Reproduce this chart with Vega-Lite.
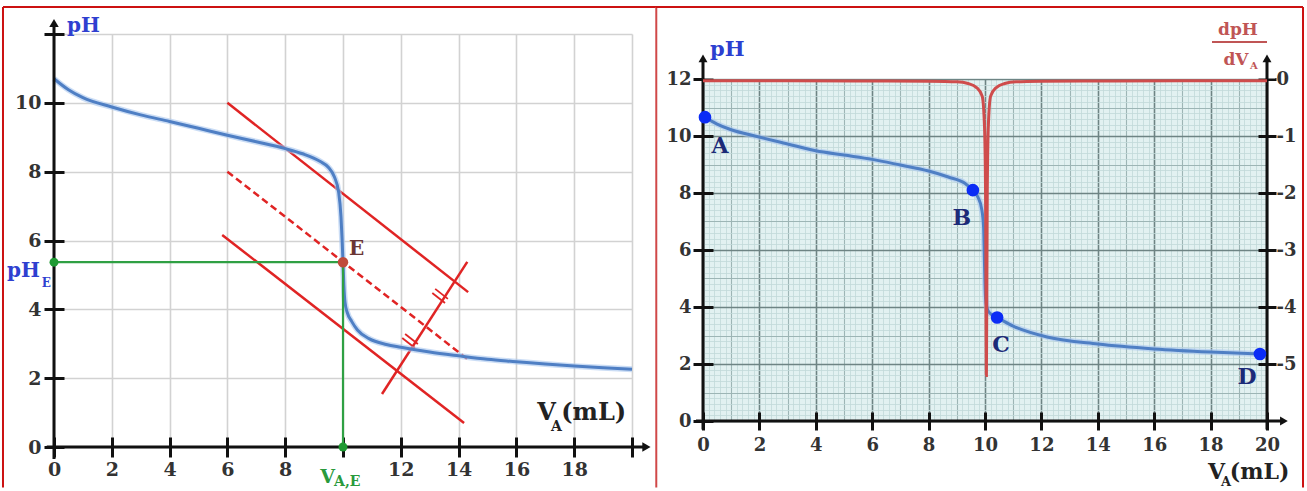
{
"$schema": "https://vega.github.io/schema/vega-lite/v6.json",
"padding": {"left": 1, "top": 6, "right": 0, "bottom": 0},
"spacing": -4,
"background": "white",
"config": {
  "view": {"stroke": null},
  "axis": {"domain": false, "labelFont": "DejaVu Serif", "labelFontWeight": "bold", "labelColor": "#333333", "tickColor": "#111111", "tickWidth": 3, "labelOverlap": false, "labelFlush": false, "labelBound": false}
},
"hconcat": [
{
  "width": 578, "height": 413,
  "encoding": {
    "x": {"field": "x", "type": "quantitative", "scale": {"domain": [0, 20], "nice": false, "zero": false},
          "axis": {"values": [0, 2, 4, 6, 8, 10, 12, 14, 16, 18, 20], "grid": true, "gridColor": "#d2d2d2", "gridWidth": 1.6, "tickSize": 20, "offset": -10, "labelPadding": 3, "labelFontSize": 19, "labelExpr": "datum.value == 10 || datum.value == 20 ? '' : toString(datum.value)", "title": null}},
    "y": {"field": "y", "type": "quantitative", "scale": {"domain": [0, 12], "nice": false, "zero": false},
          "axis": {"values": [0, 2, 4, 6, 8, 10, 12], "grid": true, "gridColor": "#d2d2d2", "gridWidth": 1.6, "tickSize": 20, "offset": -10, "labelPadding": 3, "labelFontSize": 19, "labelExpr": "datum.value == 12 ? '' : toString(datum.value)", "title": null}}
  },
  "layer": [
    {"data": {"values": [{"x": 6, "y": 10, "x2": 14.33, "y2": 4.5}, {"x": 5.82, "y": 6.16, "x2": 14.19, "y2": 0.7}, {"x": 11.35, "y": 1.54, "x2": 14.3, "y2": 5.38}]},
     "mark": {"type": "rule", "color": "#e02424", "strokeWidth": 2.5},
     "encoding": {"x2": {"field": "x2"}, "y2": {"field": "y2"}}},
    {"data": {"values": [{"x": 13.09, "y": 4.475, "x2": 13.53, "y2": 4.185}, {"x": 13.19, "y": 4.595, "x2": 13.63, "y2": 4.305}, {"x": 12.05, "y": 3.165, "x2": 12.49, "y2": 2.875}, {"x": 12.15, "y": 3.285, "x2": 12.59, "y2": 2.995}]},
     "mark": {"type": "rule", "color": "#e02424", "strokeWidth": 1.8},
     "encoding": {"x2": {"field": "x2"}, "y2": {"field": "y2"}}},
    {"data": {"values": [{"x": 6, "y": 8, "x2": 14.3, "y2": 2.56}]},
     "mark": {"type": "rule", "color": "#e02424", "strokeWidth": 2.5, "strokeDash": [7, 4]},
     "encoding": {"x2": {"field": "x2"}, "y2": {"field": "y2"}}},
    {"data": {"values": [
      {"x": 0, "y": 10.7}, {"x": 0.5, "y": 10.38}, {"x": 1, "y": 10.15}, {"x": 2, "y": 9.88}, {"x": 3, "y": 9.65}, {"x": 4, "y": 9.46}, {"x": 5, "y": 9.26}, {"x": 6, "y": 9.06}, {"x": 7, "y": 8.87}, {"x": 8, "y": 8.67}, {"x": 8.6, "y": 8.52}, {"x": 9.2, "y": 8.3}, {"x": 9.5, "y": 8.12}, {"x": 9.7, "y": 7.85}, {"x": 9.85, "y": 7.4}, {"x": 9.93, "y": 6.7}, {"x": 9.97, "y": 6.0}, {"x": 10, "y": 5.37}, {"x": 10.03, "y": 4.7}, {"x": 10.07, "y": 4.2}, {"x": 10.15, "y": 3.9}, {"x": 10.3, "y": 3.65}, {"x": 10.5, "y": 3.4}, {"x": 10.9, "y": 3.15}, {"x": 11.5, "y": 2.98}, {"x": 12, "y": 2.9}, {"x": 13, "y": 2.76}, {"x": 14, "y": 2.65}, {"x": 15, "y": 2.55}, {"x": 16, "y": 2.48}, {"x": 17, "y": 2.41}, {"x": 18, "y": 2.35}, {"x": 19, "y": 2.3}, {"x": 20, "y": 2.26}]},
     "layer": [
       {"mark": {"type": "line", "color": "#a9c6ee", "strokeWidth": 6, "opacity": 0.6, "interpolate": "monotone"}},
       {"mark": {"type": "line", "color": "#4f7fc4", "strokeWidth": 3, "interpolate": "monotone"}}
     ]},
    {"data": {"values": [{"x": 0, "y": 5.37, "x2": 10, "y2": 5.37}, {"x": 10, "y": 5.37, "x2": 10, "y2": 0}]},
     "mark": {"type": "rule", "color": "#2fa043", "strokeWidth": 2.2},
     "encoding": {"x2": {"field": "x2"}, "y2": {"field": "y2"}}},
    {"data": {"values": [{"x": -0.25, "y": 0, "x2": 20.5, "y2": 0}, {"x": 0, "y": -0.35, "x2": 0, "y2": 12.3}]},
     "mark": {"type": "rule", "color": "#111111", "strokeWidth": 3},
     "encoding": {"x2": {"field": "x2"}, "y2": {"field": "y2"}}},
    {"data": {"values": [{"x": 20.5, "y": 0}]},
     "mark": {"type": "point", "shape": "triangle-right", "filled": true, "color": "#111111", "size": 90, "opacity": 1}},
    {"data": {"values": [{"x": 0, "y": 12.32}]},
     "mark": {"type": "point", "shape": "triangle-up", "filled": true, "color": "#111111", "size": 90, "opacity": 1}},
    {"data": {"values": [{"x": 0, "y": 5.37}, {"x": 10, "y": 0}]},
     "mark": {"type": "point", "filled": true, "color": "#1f9a33", "size": 80, "opacity": 1}},
    {"data": {"values": [{"x": 10, "y": 5.37}]},
     "mark": {"type": "point", "filled": true, "color": "#c04a3a", "size": 110, "opacity": 1}},
    {"data": {"values": [{"x": 0.45, "y": 12.06, "t": "pH"}, {"x": -1.627, "y": 4.94, "t": "pH"}]},
     "mark": {"type": "text", "align": "left", "baseline": "alphabetic", "font": "DejaVu Serif", "fontWeight": "bold", "fontSize": 20, "color": "#2f3fd0"},
     "encoding": {"text": {"field": "t"}}},
    {"data": {"values": [{"x": -0.42, "y": 4.65, "t": "E"}]},
     "mark": {"type": "text", "align": "left", "baseline": "alphabetic", "font": "DejaVu Serif", "fontWeight": "bold", "fontSize": 12, "color": "#2f3fd0"},
     "encoding": {"text": {"field": "t"}}},
    {"data": {"values": [{"x": 10.21, "y": 5.58, "t": "E"}]},
     "mark": {"type": "text", "align": "left", "baseline": "alphabetic", "font": "DejaVu Serif", "fontWeight": "bold", "fontSize": 20, "color": "#6b3535"},
     "encoding": {"text": {"field": "t"}}},
    {"data": {"values": [{"x": 9.21, "y": -1.046, "t": "V"}]},
     "mark": {"type": "text", "align": "left", "baseline": "alphabetic", "font": "DejaVu Serif", "fontWeight": "bold", "fontSize": 19, "color": "#2a9a3c"},
     "encoding": {"text": {"field": "t"}}},
    {"data": {"values": [{"x": 9.69, "y": -1.133, "t": "A,E"}]},
     "mark": {"type": "text", "align": "left", "baseline": "alphabetic", "font": "DejaVu Serif", "fontWeight": "bold", "fontSize": 14, "color": "#2a9a3c"},
     "encoding": {"text": {"field": "t"}}},
    {"data": {"values": [{"x": 16.72, "y": 0.785, "t": "V"}, {"x": 17.55, "y": 0.785, "t": "(mL)"}]},
     "mark": {"type": "text", "align": "left", "baseline": "alphabetic", "font": "DejaVu Serif", "fontWeight": "bold", "fontSize": 24, "color": "#222222"},
     "encoding": {"text": {"field": "t"}}},
    {"data": {"values": [{"x": 17.2, "y": 0.465, "t": "A"}]},
     "mark": {"type": "text", "align": "left", "baseline": "alphabetic", "font": "DejaVu Serif", "fontWeight": "bold", "fontSize": 14, "color": "#222222"},
     "encoding": {"text": {"field": "t"}}},
    {"data": {"values": [{"x": -1.765, "y": 12.784, "x2": 20.84, "y2": 12.784}, {"x": -1.765, "y": 12.784, "x2": -1.765, "y2": -1.177}]},
     "mark": {"type": "rule", "color": "#cc1111", "strokeWidth": 2},
     "encoding": {"x2": {"field": "x2"}, "y2": {"field": "y2"}}},
    {"data": {"values": [{"x": 20.84, "y": 12.784, "x2": 20.84, "y2": -1.177}]},
     "mark": {"type": "rule", "color": "#d04848", "strokeWidth": 2},
     "encoding": {"x2": {"field": "x2"}, "y2": {"field": "y2"}}}
  ]
},
{
  "width": 564, "height": 387,
  "view": {"fill": "#e2f1f1", "stroke": null},
  "resolve": {"scale": {"y": "independent"}, "axis": {"x": "independent"}},
  "layer": [
    {"encoding": {
       "x": {"field": "x", "type": "quantitative", "scale": {"domain": [0, 20], "nice": false, "zero": false},
             "axis": {"orient": "bottom", "values": [0, 2, 4, 6, 8, 10, 12, 14, 16, 18, 20], "grid": false,
                      "tickSize": 18, "offset": -9, "labelPadding": 6, "labelFontSize": 18,
                      "labelExpr": "toString(datum.value)", "title": null}},
       "y": {"field": "y", "type": "quantitative", "scale": {"domain": [0, 12], "range": [387, 45], "nice": false, "zero": false},
             "axis": {"orient": "left", "tickCount": 60, "grid": true,
                      "gridColor": {"condition": [{"test": "datum.value % 2 === 0", "value": "#6e8484"}, {"test": "datum.value % 1 === 0", "value": "#9db5b5"}], "value": "#c2d9d9"},
                      "gridWidth": {"condition": [{"test": "datum.value % 2 === 0", "value": 1.6}, {"test": "datum.value % 1 === 0", "value": 1.1}], "value": 0.8},
                      "tickOpacity": {"condition": {"test": "datum.value % 2 === 0", "value": 1}, "value": 0},
                      "tickSize": 20, "offset": -10, "labelPadding": 2, "labelFontSize": 18,
                      "labelExpr": "datum.value % 2 === 0 ? toString(datum.value) : ''", "title": null}}},
     "layer": [
      {"data": {"values": [{"x": -0.02, "y": 12.02, "x2": 20.3, "y2": 14}]},
       "mark": {"type": "rect", "color": "white", "opacity": 1},
       "encoding": {"x2": {"field": "x2"}, "y2": {"field": "y2"}}},
      {"data": {"values": [
        {"x": 0.07, "y": 10.66}, {"x": 0.5, "y": 10.42}, {"x": 1, "y": 10.22}, {"x": 1.84, "y": 10.0}, {"x": 3, "y": 9.72}, {"x": 4, "y": 9.48}, {"x": 5, "y": 9.33}, {"x": 6, "y": 9.18}, {"x": 7, "y": 8.98}, {"x": 8, "y": 8.77}, {"x": 8.7, "y": 8.56}, {"x": 9.3, "y": 8.33}, {"x": 9.57, "y": 8.1}, {"x": 9.75, "y": 7.85}, {"x": 9.88, "y": 7.45}, {"x": 9.95, "y": 6.8}, {"x": 9.98, "y": 5.6}, {"x": 10.02, "y": 4.3}, {"x": 10.1, "y": 3.88}, {"x": 10.25, "y": 3.72}, {"x": 10.43, "y": 3.63}, {"x": 11, "y": 3.33}, {"x": 12.2, "y": 2.95}, {"x": 14, "y": 2.7}, {"x": 16, "y": 2.53}, {"x": 18, "y": 2.42}, {"x": 19.75, "y": 2.35}]},
       "layer": [
         {"mark": {"type": "line", "color": "#a9c6ee", "strokeWidth": 6, "opacity": 0.6, "interpolate": "monotone"}},
         {"mark": {"type": "line", "color": "#4f7fc4", "strokeWidth": 3, "interpolate": "monotone"}}
       ]},
      {"data": {"values": [{"x": -0.25, "y": 0, "x2": 20.55, "y2": 0}, {"x": 0, "y": -0.3, "x2": 0, "y2": 12.7}, {"x": 20, "y": -0.3, "x2": 20, "y2": 12.7}]},
       "mark": {"type": "rule", "color": "#111111", "strokeWidth": 3},
       "encoding": {"x2": {"field": "x2"}, "y2": {"field": "y2"}}},
      {"data": {"values": [{"x": 20.6, "y": 0}]},
       "mark": {"type": "point", "shape": "triangle-right", "filled": true, "color": "#111111", "size": 80, "opacity": 1}},
      {"data": {"values": [{"x": 0, "y": 12.72}, {"x": 20, "y": 12.72}]},
       "mark": {"type": "point", "shape": "triangle-up", "filled": true, "color": "#111111", "size": 80, "opacity": 1}},
      {"data": {"values": [{"label": "A", "x": 0.07, "y": 10.66}, {"label": "B", "x": 9.57, "y": 8.1}, {"label": "C", "x": 10.43, "y": 3.63}, {"label": "D", "x": 19.75, "y": 2.35}]},
       "mark": {"type": "point", "filled": true, "color": "#0b2cf5", "size": 160, "opacity": 1}},
      {"data": {"values": [{"t": "A", "x": 0.6, "y": 9.65}, {"t": "B", "x": 9.18, "y": 7.12}, {"t": "C", "x": 10.57, "y": 2.67}, {"t": "D", "x": 19.29, "y": 1.54}]},
       "mark": {"type": "text", "align": "center", "baseline": "middle", "font": "DejaVu Serif", "fontWeight": "bold", "fontSize": 22, "color": "#1c2a78"},
       "encoding": {"text": {"field": "t"}}},
      {"data": {"values": [{"t": "pH", "x": 0.25, "y": 12.81}]},
       "mark": {"type": "text", "align": "left", "baseline": "alphabetic", "font": "DejaVu Serif", "fontWeight": "bold", "fontSize": 21, "color": "#2c3fd0"},
       "encoding": {"text": {"field": "t"}}},
      {"data": {"values": [{"t": "dpH", "x": 18.97, "y": 13.54}, {"t": "dV", "x": 18.9, "y": 12.49}]},
       "mark": {"type": "text", "align": "center", "baseline": "alphabetic", "font": "DejaVu Serif", "fontWeight": "bold", "fontSize": 17, "color": "#c05555"},
       "encoding": {"text": {"field": "t"}}},
      {"data": {"values": [{"t": "A", "x": 19.4, "y": 12.35}]},
       "mark": {"type": "text", "align": "left", "baseline": "alphabetic", "font": "DejaVu Serif", "fontWeight": "bold", "fontSize": 10, "color": "#c05555"},
       "encoding": {"text": {"field": "t"}}},
      {"data": {"values": [{"x": 18.05, "y": 13.3, "x2": 20.0, "y2": 13.3}]},
       "mark": {"type": "rule", "color": "#c05555", "strokeWidth": 2},
       "encoding": {"x2": {"field": "x2"}, "y2": {"field": "y2"}}},
      {"data": {"values": [{"t": "V", "x": 17.91, "y": -2.035}, {"t": "(mL)", "x": 18.68, "y": -2.035}]},
       "mark": {"type": "text", "align": "left", "baseline": "alphabetic", "font": "DejaVu Serif", "fontWeight": "bold", "fontSize": 22, "color": "#222222"},
       "encoding": {"text": {"field": "t"}}},
      {"data": {"values": [{"t": "A", "x": 18.37, "y": -2.28}]},
       "mark": {"type": "text", "align": "left", "baseline": "alphabetic", "font": "DejaVu Serif", "fontWeight": "bold", "fontSize": 13, "color": "#222222"},
       "encoding": {"text": {"field": "t"}}},
      {"data": {"values": [{"x": -1.667, "y": 14.526, "x2": 21.277, "y2": 14.526}, {"x": 21.277, "y": 14.526, "x2": 21.277, "y2": -2.333}]},
       "mark": {"type": "rule", "color": "#cc1111", "strokeWidth": 2},
       "encoding": {"x2": {"field": "x2"}, "y2": {"field": "y2"}}}
     ]},
    {"encoding": {
       "x": {"field": "x", "type": "quantitative", "scale": {"domain": [0, 20], "nice": false, "zero": false},
             "axis": {"orient": "top", "tickCount": 100, "grid": true, "labels": false, "ticks": false,
                      "gridColor": {"condition": [{"test": "datum.value % 2 === 0", "value": "#6e8484"}, {"test": "datum.value % 1 === 0", "value": "#9db5b5"}], "value": "#c2d9d9"},
                      "gridWidth": {"condition": [{"test": "datum.value % 2 === 0", "value": 1.6}, {"test": "datum.value % 1 === 0", "value": 1.1}], "value": 0.8},
                      "title": null}},
       "y": {"field": "y", "type": "quantitative", "scale": {"domain": [-6, 0], "range": [387, 45], "nice": false, "zero": false},
             "axis": {"orient": "right", "values": [0, -1, -2, -3, -4, -5], "grid": false, "tickSize": 18, "offset": -9, "labelPadding": 0, "labelFontSize": 18, "labelExpr": "toString(datum.value)", "title": null}}},
     "layer": [
      {"data": {"values": [
        {"x": 0, "y": -0.03}, {"x": 3, "y": -0.03}, {"x": 6, "y": -0.035}, {"x": 8, "y": -0.04}, {"x": 9, "y": -0.05}, {"x": 9.4, "y": -0.08}, {"x": 9.7, "y": -0.15}, {"x": 9.9, "y": -0.3}, {"x": 9.98, "y": -0.8}, {"x": 10.02, "y": -2}, {"x": 10.05, "y": -5.2}, {"x": 10.08, "y": -2}, {"x": 10.12, "y": -0.8}, {"x": 10.2, "y": -0.3}, {"x": 10.4, "y": -0.15}, {"x": 10.7, "y": -0.08}, {"x": 11.1, "y": -0.05}, {"x": 12, "y": -0.04}, {"x": 14, "y": -0.035}, {"x": 17, "y": -0.03}, {"x": 20, "y": -0.03}]},
       "mark": {"type": "line", "color": "#cf4c4c", "strokeWidth": 3, "interpolate": "monotone"}}
     ]}
  ]
}
]
}
